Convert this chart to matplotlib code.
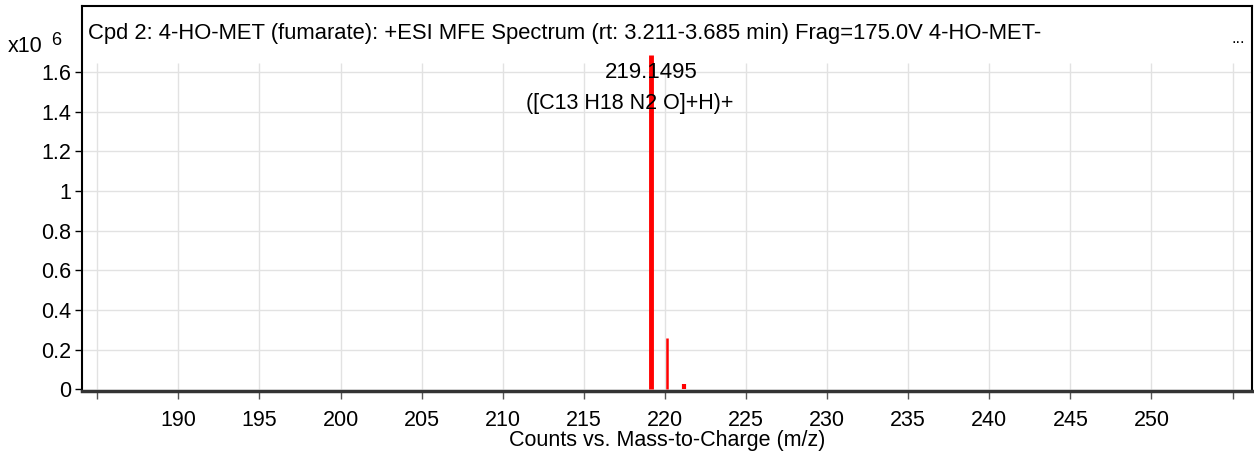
import numpy as np
import matplotlib.pyplot as plt

plt.rcParams['font.family'] = ['Liberation Sans', 'DejaVu Sans']

# Data (m/z, intensity in units of 1e6 counts)
mz = [219.1495, 220.15, 221.15]
intensity = [1.686, 0.258, 0.025]
widths = [3.5, 1.8, 3.0]

x_ticks = np.arange(185, 256, 5)
x_labels = ['' if t in (185, 255) else str(t) for t in x_ticks]
y_ticks = [0, 0.2, 0.4, 0.6, 0.8, 1.0, 1.2, 1.4, 1.6]
y_labels = ['0', '0.2', '0.4', '0.6', '0.8', '1', '1.2', '1.4', '1.6']

title = ("Cpd 2: 4-HO-MET (fumarate): +ESI MFE Spectrum (rt: 3.211-3.685 min) "
         "Frag=175.0V 4-HO-MET-")
peak_label = "219.1495"
formula_label = "([C13 H18 N2 O]+H)+"

fs = 15.5

fig = plt.figure(figsize=(12.54, 4.54), dpi=100)
ax = fig.add_axes([0.0654, 0.1388, 0.9330, 0.848])

ax.set_xlim(184.06, 256.2)
ax.set_ylim(-0.008, 1.933)

# grid: horizontal full width, vertical only below the header strip
for y in y_ticks[1:]:
    ax.axhline(y, color='#e2e2e2', lw=1, zorder=0)
ax.vlines(x_ticks, 0, 1.645, color='#e2e2e2', lw=1, zorder=0)

# spectrum sticks
for m, h, w in zip(mz, intensity, widths):
    ax.vlines(m, 0, h, color='red', lw=w, zorder=3)

ax.text(mz[0], 1.60, peak_label, ha='center', va='center', fontsize=16, zorder=4)
ax.text(mz[0] - 1.3, 1.44, formula_label, ha='center', va='center', fontsize=fs, zorder=4)

ax.text(0.005, 0.928, title, transform=ax.transAxes, ha='left', va='center', fontsize=15.8)
ax.text(0.988, 0.915, '...', transform=ax.transAxes, ha='center', va='center', fontsize=12)

ax.set_xticks(x_ticks)
ax.set_xticklabels(x_labels, fontsize=fs)
ax.set_yticks(y_ticks)
ax.set_yticklabels(y_labels, fontsize=fs)
ax.tick_params(axis='x', direction='out', length=6, width=1, color='#555555', pad=8)
ax.tick_params(axis='y', direction='out', length=5, width=1, color='black', pad=3)

ax.set_xlabel('Counts vs. Mass-to-Charge (m/z)', fontsize=fs, labelpad=-1)

for s in ('left', 'top', 'right'):
    ax.spines[s].set_color('black')
    ax.spines[s].set_linewidth(1.5)
ax.spines['bottom'].set_color('#333333')
ax.spines['bottom'].set_linewidth(2.5)

fig.text(0.006, 0.898, 'x10', fontsize=fs, ha='left', va='center')
fig.text(0.041, 0.91, '6', fontsize=13, ha='left', va='center')

fig.savefig('out.png', dpi=100)
